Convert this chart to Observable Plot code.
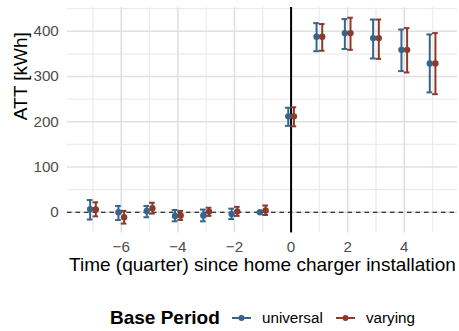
<!DOCTYPE html>
<html>
<head>
<meta charset="utf-8">
<script src="https://cdn.jsdelivr.net/npm/d3@7"></script>
<script src="https://cdn.jsdelivr.net/npm/@observablehq/plot@0.6"></script>
<style>
  body { margin: 0; background: white; }
  #chart { width: 459px; }
  #legend { position: relative; width: 459px; height: 41px; font-family: "Liberation Sans", Arial, sans-serif; }
  #legend span { position: absolute; white-space: nowrap; line-height: 20px; }
</style>
</head>
<body>
<div id="chart"></div>
<div id="legend"></div>
<script>
// Event-study estimates of home charger adoption on electricity use (kWh)
const quarters = [-7, -6, -5, -4, -3, -2, -1, 0, 1, 2, 3, 4, 5];

const universalEst  = [7, 0, 3, -8, -7, -4, 0, 212, 388, 396, 385, 359, 329];
const universalLow  = [-16, -17, -11, -20, -20, -15, 0, 191, 356, 361, 340, 312, 265];
const universalHigh = [27, 14, 14, 5, 6, 8, 0, 231, 418, 427, 426, 404, 393];

const varyingEst  = [6, -11, 9, -7, 1.5, 2, 4, 212, 388, 396, 385, 359, 329];
const varyingLow  = [-9, -25, -3, -17, -8, -8, -6, 190, 357, 359, 339, 309, 261];
const varyingHigh = [22, 3, 21, 3, 10, 12, 15, 232, 416, 430, 426, 407, 396];

const seriesNames  = ["universal", "varying"];
const seriesColors = ["#36648b", "#8b3a2c"];

const xTicks = [-6, -4, -2, 0, 2, 4];
const yTicks = [0, 100, 200, 300, 400];
const xMinor = [-7, -5, -3, -1, 1, 3, 5];
const yMinor = [50, 150, 250, 350, 450];

// side-by-side placement of the two base-period variants
const dodge = 0.1;
const offsets = {universal: -dodge, varying: dodge};

const series = {
  universal: [universalEst, universalLow, universalHigh],
  varying: [varyingEst, varyingLow, varyingHigh]
};
const rows = seriesNames.flatMap(base => quarters.map((q, i) => ({
  base,
  quarter: q,
  x: q + offsets[base],
  est: series[base][0][i],
  low: series[base][1][i],
  high: series[base][2][i]
})));

const capHalf = 0.1;
const font = "Liberation Sans, Arial, sans-serif";

const chart = Plot.plot({
  width: 459,
  height: 290,
  marginLeft: 67,
  marginRight: 2,
  marginTop: 7,
  marginBottom: 57.6,
  style: {fontFamily: font, background: "white"},
  x: {domain: [-7.9, 5.88]},
  y: {domain: [-45.6, 452.6]},
  color: {domain: seriesNames, range: seriesColors},
  marks: [
    Plot.gridX(xMinor, {stroke: "#ececec", strokeOpacity: 1, strokeWidth: 1.3}),
    Plot.gridY(yMinor, {stroke: "#ececec", strokeOpacity: 1, strokeWidth: 1.3}),
    Plot.gridX(xTicks, {stroke: "#e0e0e0", strokeOpacity: 1, strokeWidth: 1.6}),
    Plot.gridY(yTicks, {stroke: "#e0e0e0", strokeOpacity: 1, strokeWidth: 1.6}),
    Plot.axisX({ticks: xTicks, tickSize: 0, tickPadding: 8, fontSize: 15.2, fill: "#4d4d4d", label: null}),
    Plot.axisY({ticks: yTicks, tickSize: 0, tickPadding: 8.7, fontSize: 15.2, fill: "#4d4d4d", label: null}),
    Plot.ruleY([0], {stroke: "black", strokeWidth: 1.2, strokeDasharray: "4.5,4"}),
    Plot.ruleX([0], {stroke: "black", strokeWidth: 2}),
    Plot.ruleX(rows, {x: "x", y1: "low", y2: "high", stroke: "base", strokeWidth: 2}),
    Plot.ruleY(rows, {y: "low", x1: d => d.x - capHalf, x2: d => d.x + capHalf, stroke: "base", strokeWidth: 2}),
    Plot.ruleY(rows, {y: "high", x1: d => d.x - capHalf, x2: d => d.x + capHalf, stroke: "base", strokeWidth: 2}),
    Plot.dot(rows, {x: "x", y: "est", fill: "base", r: 3.2}),
    Plot.text(["Time (quarter) since home charger installation"], {
      frameAnchor: "bottom", dy: 38, fontSize: 19, fill: "black"
    }),
    Plot.text(["ATT [kWh]"], {
      frameAnchor: "left", dx: -47, rotate: -90, fontSize: 19, fill: "black"
    })
  ]
});
document.getElementById("chart").append(chart);

// legend below the plot
const legend = document.getElementById("legend");
const title = document.createElement("span");
title.textContent = "Base Period";
Object.assign(title.style, {left: "110px", top: "18px", fontSize: "19px", fontWeight: "bold", color: "black"});
legend.append(title);

const keyLefts = [232, 336];
seriesNames.forEach((name, i) => {
  const ns = "http://www.w3.org/2000/svg";
  const key = document.createElementNS(ns, "svg");
  key.setAttribute("width", 19);
  key.setAttribute("height", 10);
  key.style.position = "absolute";
  key.style.left = keyLefts[i] + "px";
  key.style.top = "23px";
  const line = document.createElementNS(ns, "line");
  line.setAttribute("x1", 0); line.setAttribute("x2", 19);
  line.setAttribute("y1", 5); line.setAttribute("y2", 5);
  line.setAttribute("stroke", seriesColors[i]);
  line.setAttribute("stroke-width", 2);
  const dot = document.createElementNS(ns, "circle");
  dot.setAttribute("cx", 9.5); dot.setAttribute("cy", 5); dot.setAttribute("r", 3);
  dot.setAttribute("fill", seriesColors[i]);
  key.append(line, dot);
  legend.append(key);

  const lab = document.createElement("span");
  lab.textContent = name;
  Object.assign(lab.style, {left: (keyLefts[i] + 30) + "px", top: "18px", fontSize: "15.2px", color: "black"});
  legend.append(lab);
});
</script>
</body>
</html>
